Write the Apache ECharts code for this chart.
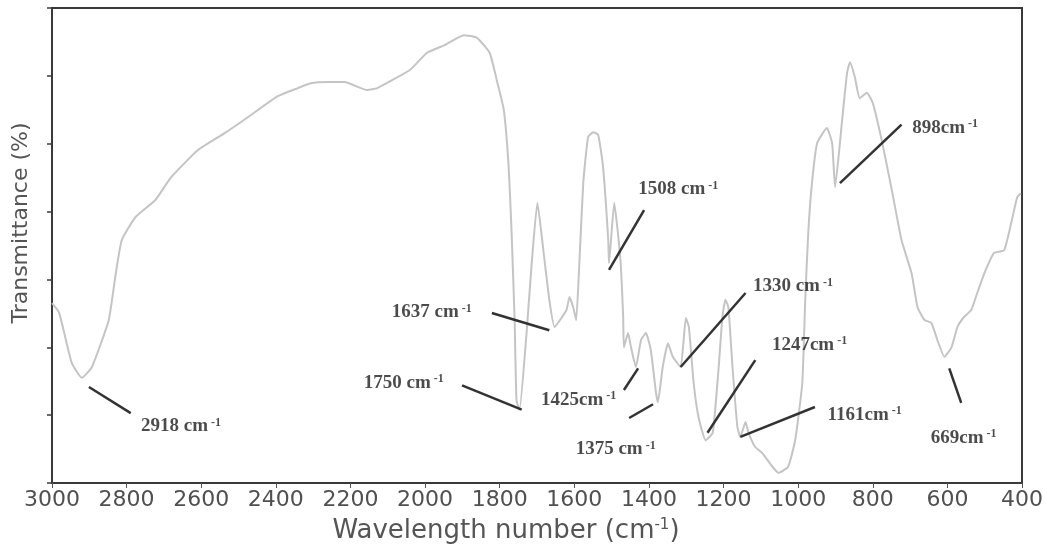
<!DOCTYPE html>
<html>
<head>
<meta charset="utf-8">
<script src="https://cdn.jsdelivr.net/npm/echarts@6/dist/echarts.min.js"></script>
<style>html,body{margin:0;padding:0;background:#fff;}#c{width:1046px;height:555px;}</style>
</head>
<body>
<div id="c"></div>
<script>
// Spectrum: wavenumber (cm-1) and transmittance (arbitrary %)
const wavenumber = [3000,2981,2947,2920,2893,2848,2829,2813,2776,2723,2680,2608,2536,2475,2395,2341,2307,2261,2216,2155,2128,2040,1995,1949,1896,1861,1827,1808,1789,1776,1768,1760,1755,1747,1728,1715,1699,1683,1667,1653,1621,1613,1603,1595,1587,1576,1563,1549,1536,1523,1509,1507,1493,1483,1475,1469,1467,1456,1448,1435,1421,1408,1395,1381,1376,1363,1349,1336,1315,1301,1293,1280,1267,1248,1229,1213,1203,1195,1187,1176,1163,1155,1141,1133,1115,1096,1069,1053,1027,1008,989,981,973,963,949,923,909,901,883,869,861,848,835,816,800,776,749,723,696,680,661,643,627,608,589,573,555,536,520,501,475,448,429,413,403];
const transmittance = [26.5,25.1,17.7,15.5,17.1,24.0,30.9,35.8,39.2,41.7,45.1,49.1,51.6,53.9,57.0,58.2,58.9,59.1,59.1,57.9,58.2,60.9,63.4,64.5,66.0,65.6,63.4,59.4,55.0,46.6,36.8,24.0,12.2,10.8,22.1,31.8,41.3,34.3,27.0,23.0,25.5,27.4,25.9,24.0,31.8,44.2,51.0,51.7,51.3,46.6,35.8,32.4,41.3,36.8,31.8,24.5,20.0,22.1,20.0,17.1,21.1,22.1,19.6,13.3,11.9,17.1,20.6,18.6,17.1,24.3,23.0,14.7,9.7,6.3,7.4,17.1,24.5,27.0,25.9,17.1,8.3,6.8,9.0,7.4,5.3,4.4,2.4,1.5,2.4,6.3,14.7,27.0,36.8,44.2,50.1,52.3,50.1,43.6,53.0,60.4,62.0,59.8,56.7,57.5,56.0,50.5,43.2,35.8,30.9,25.9,24.0,23.6,21.1,18.6,20.0,23.0,24.5,25.5,28.0,30.9,33.9,34.3,38.3,42.1,42.7];

const xTicks = [3000,2800,2600,2400,2200,2000,1800,1600,1400,1200,1000,800,600,400];

// Peak annotations
const annoText = ['2918 cm','1750 cm','1637 cm','1508 cm','1425cm','1375 cm','1330 cm','1247cm','1161cm','898cm','669cm'];
const annoTextAt = [[2760,8.25],[2163,14.7],[2088,25.05],[1427,43.2],[1688,12.2],[1595,4.86],[1120,28.9],[1069,20.3],[920,10.0],[693,52.3],[643,6.6]];
const annoLineFrom = [[2901,14.15],[1901,14.4],[1821,25.05],[1413,40.2],[1467,13.7],[1453,9.58],[1141,28.0],[1115,18.1],[955,11.2],[723,52.8],[595,16.9]];
const annoLineTo = [[2789,10.3],[1741,10.8],[1667,22.5],[1507,31.4],[1429,16.9],[1389,11.6],[1315,17.1],[1243,7.4],[1155,6.8],[888,44.2],[563,11.8]];

const chart = echarts.init(document.getElementById('c'));
const spectrum = wavenumber.map((w,i)=>[w, transmittance[i]]);

chart.setOption({
  animation: false,
  backgroundColor: '#fff',
  grid: {left: 52, right: 19, top: 8, bottom: 72, show: true, borderColor: '#3a3a3a', borderWidth: 2},
  xAxis: {
    type: 'value', min: 400, max: 3000, interval: 200, inverse: true,
    name: 'Wavelength number (cm{s|-1})',
    nameLocation: 'middle', nameGap: 35,
    nameTextStyle: {fontFamily: 'DejaVu Sans', fontSize: 26, color: '#555', padding: [0, 62, 0, 0],
      rich: {s: {fontFamily: 'DejaVu Sans', fontSize: 15, color: '#555', verticalAlign: 'top', padding: [0,0,6,0]}}},
    axisLine: {show: true, lineStyle: {color: '#3a3a3a', width: 2}},
    axisTick: {show: true, length: 5, lineStyle: {color: '#555', width: 1}},
    axisLabel: {fontFamily: 'DejaVu Sans', fontSize: 22, color: '#505050', margin: 6,
      formatter: v => xTicks.includes(v) ? String(v) : ''},
    splitLine: {show: false}
  },
  yAxis: {
    type: 'value', min: 0, max: 70, interval: 10,
    axisLine: {show: true, lineStyle: {color: '#3a3a3a', width: 2}},
    axisTick: {show: true, length: 5, lineStyle: {color: '#3a3a3a', width: 1.5}},
    axisLabel: {show: false},
    splitLine: {show: false}
  },
  graphic: [{
    type: 'text', x: 21, y: 223, rotation: Math.PI/2,
    style: {text: 'Transmittance (%)', font: '22px "DejaVu Sans"', fill: '#555', align: 'center', verticalAlign: 'middle'}
  }],
  series: [{
    type: 'line', data: spectrum, showSymbol: false, smooth: 0.15,
    lineStyle: {color: '#c4c4c4', width: 2}, z: 2,
    markLine: {
      silent: true, symbol: ['none','none'], label: {show: false},
      lineStyle: {color: '#333', width: 2.5, type: 'solid'},
      data: annoLineFrom.map((p,i)=>[{coord: p}, {coord: annoLineTo[i]}])
    }
  }, {
    type: 'scatter', symbolSize: 1, itemStyle: {color: 'rgba(0,0,0,0)'}, z: 5,
    data: annoTextAt.map((p,i)=>({value: p, name: annoText[i]})),
    label: {
      show: true, position: [0,0], align: 'left', verticalAlign: 'middle', color: '#1e1e1e',
      formatter: p => '{b|' + p.name + '}{s|-1}',
      rich: {
        b: {fontFamily: 'Liberation Serif', fontWeight: 'bold', fontSize: 19, color: '#1e1e1e'},
        s: {fontFamily: 'Liberation Serif', fontWeight: 'bold', fontSize: 12, color: '#1e1e1e', verticalAlign: 'top', padding: [0,0,6,3]}
      }
    }
  }]
});
</script>
</body>
</html>
